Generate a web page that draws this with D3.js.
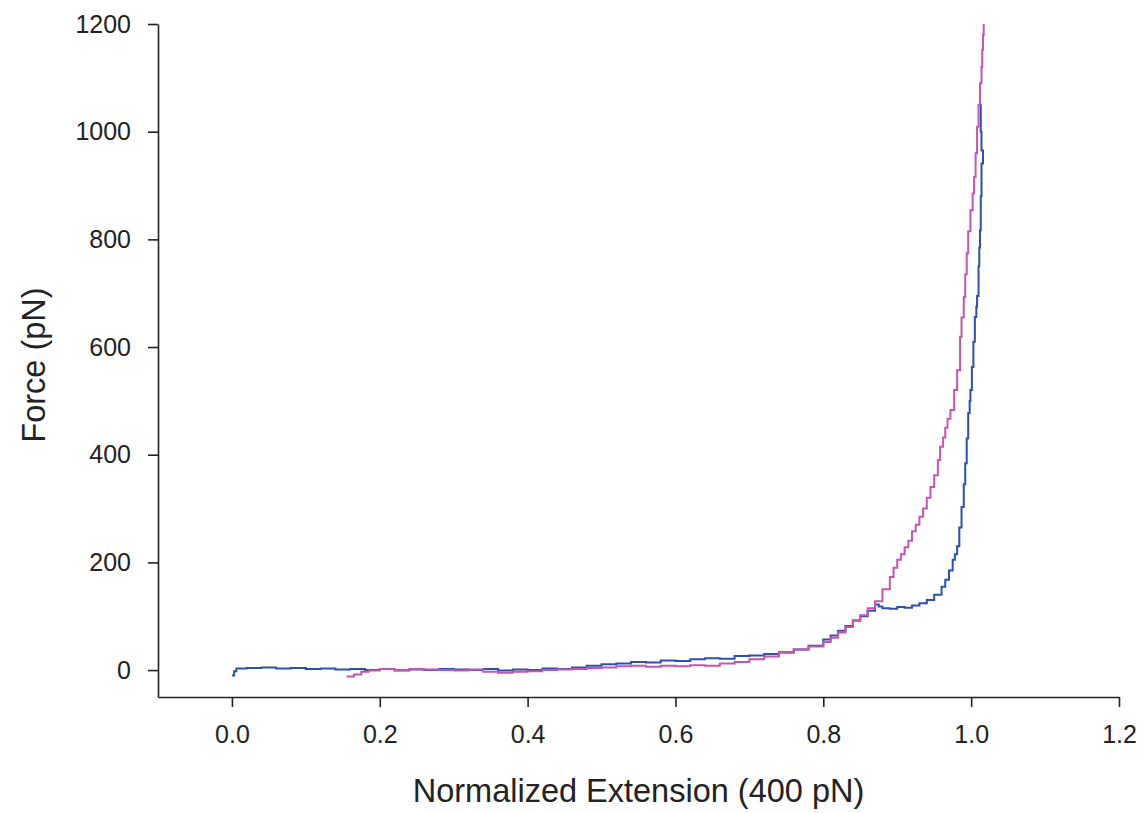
<!DOCTYPE html>
<html>
<head>
<meta charset="utf-8">
<script src="https://cdn.jsdelivr.net/npm/d3@7"></script>
<style>
  body { margin: 0; background: #fff; }
  .tick text { font-family: "Liberation Sans", Arial, sans-serif; font-size: 25px; fill: #222; }
  .title { font-family: "Liberation Sans", Arial, sans-serif; font-size: 32.5px; fill: #222; }
</style>
</head>
<body>
<script>
// extension / force readings, blue trace
const blueExt = [0.000, 0.003, 0.006, 0.02, 0.04, 0.06, 0.08, 0.10, 0.12, 0.14, 0.16, 0.18, 0.20, 0.22, 0.24, 0.26, 0.28, 0.30, 0.32, 0.34, 0.36, 0.38, 0.40, 0.42, 0.44, 0.46, 0.48, 0.50, 0.52, 0.54, 0.56, 0.58, 0.60, 0.62, 0.64, 0.66, 0.68, 0.70, 0.72, 0.74, 0.76, 0.78, 0.80, 0.81, 0.82, 0.83, 0.84, 0.85, 0.86, 0.87, 0.875, 0.88, 0.89, 0.90, 0.91, 0.92, 0.93, 0.94, 0.95, 0.96, 0.965, 0.97, 0.975, 0.978, 0.981, 0.984, 0.987, 0.990, 0.992, 0.994, 0.996, 0.998, 0.999, 1.001, 1.003, 1.005, 1.007, 1.008, 1.010, 1.011, 1.012, 1.013, 1.014, 1.016, 1.014, 1.013, 1.012];
const blueForce = [-10, -2, 3, 4, 5, 3, 4, 2, 3, 1, 2, 0, 2, -1, 1, 0, 2, 1, 0, 2, -1, 1, 0, 3, 2, 5, 8, 11, 12, 15, 14, 18, 17, 20, 22, 21, 26, 27, 30, 33, 38, 45, 57, 64, 73, 82, 92, 100, 110, 122, 118, 115, 114, 117, 116, 120, 124, 130, 140, 155, 168, 185, 205, 215, 230, 265, 303, 345, 384, 430, 477, 500, 520, 563, 610, 656, 675, 695, 750, 785, 817, 880, 941, 965, 1000, 1050, 1090];

// pink trace
const pinkExt = [0.155, 0.165, 0.175, 0.185, 0.20, 0.22, 0.24, 0.26, 0.28, 0.30, 0.32, 0.34, 0.36, 0.38, 0.40, 0.42, 0.44, 0.46, 0.48, 0.50, 0.52, 0.54, 0.56, 0.58, 0.60, 0.62, 0.64, 0.66, 0.68, 0.70, 0.72, 0.74, 0.76, 0.78, 0.80, 0.81, 0.82, 0.83, 0.84, 0.85, 0.86, 0.87, 0.88, 0.89, 0.895, 0.90, 0.905, 0.91, 0.915, 0.92, 0.925, 0.93, 0.935, 0.94, 0.945, 0.95, 0.955, 0.958, 0.962, 0.965, 0.968, 0.972, 0.977, 0.981, 0.985, 0.987, 0.990, 0.992, 0.994, 0.996, 0.999, 1.002, 1.004, 1.006, 1.008, 1.010, 1.012, 1.014, 1.015, 1.016, 1.017];
const pinkForce = [-12, -8, -3, -1, 2, 0, 2, 1, 0, -1, 1, -3, -5, -3, -2, 0, 1, 2, 4, 5, 7, 8, 6, 8, 7, 9, 8, 12, 15, 20, 25, 32, 38, 44, 52, 60, 70, 80, 92, 102, 115, 128, 150, 173, 190, 205, 215, 228, 240, 258, 270, 285, 300, 320, 340, 362, 390, 415, 432, 450, 467, 483, 520, 557, 619, 655, 693, 735, 774, 815, 854, 885, 916, 960, 1009, 1050, 1090, 1120, 1152, 1180, 1200];

const xTicks = [0, 0.2, 0.4, 0.6, 0.8, 1.0, 1.2];
const yTicks = [0, 200, 400, 600, 800, 1000, 1200];

const width = 1142, height = 813;
const svg = d3.select('body').append('svg')
  .attr('width', width)
  .attr('height', height);

const x = d3.scaleLinear().domain([-0.1, 1.2]).range([158, 1119]);
const y = d3.scaleLinear().domain([-50, 1200]).range([697, 24]);

// axes
svg.append('g')
  .attr('transform', `translate(0,${y(-50)})`)
  .call(d3.axisBottom(x).tickValues(xTicks).tickFormat(d3.format('.1f')).tickSize(10).tickSizeOuter(0).tickPadding(18));

svg.append('g')
  .attr('transform', `translate(${x(-0.1)},0)`)
  .call(d3.axisLeft(y).tickValues(yTicks).tickFormat(d3.format('d')).tickSize(10).tickSizeOuter(0).tickPadding(17));

svg.selectAll('.domain, .tick line')
  .attr('stroke', '#222')
  .attr('stroke-width', 1.6);

// traces
const line = d3.line()
  .x(d => x(d[0]))
  .y(d => y(d[1]))
  .curve(d3.curveStepAfter);

svg.append('path')
  .datum(d3.zip(blueExt, blueForce))
  .attr('d', line)
  .attr('fill', 'none')
  .attr('stroke', '#2f4fae')
  .attr('stroke-width', 2);

svg.append('path')
  .datum(d3.zip(pinkExt, pinkForce))
  .attr('d', line)
  .attr('fill', 'none')
  .attr('stroke', '#c455b0')
  .attr('stroke-width', 2);

// titles
svg.append('text')
  .attr('class', 'title')
  .attr('x', (x(-0.1) + x(1.2)) / 2)
  .attr('y', 802)
  .attr('text-anchor', 'middle')
  .text('Normalized Extension (400 pN)');

svg.append('text')
  .attr('class', 'title')
  .attr('transform', 'translate(45,365) rotate(-90)')
  .attr('text-anchor', 'middle')
  .text('Force (pN)');
</script>
</body>
</html>
